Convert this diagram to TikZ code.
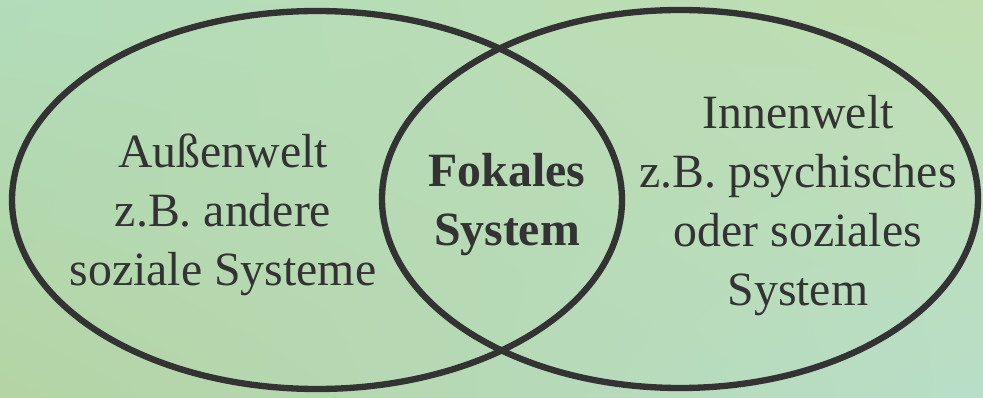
\documentclass[tikz,border=0pt]{standalone}
\usepackage{fontspec}
\setmainfont{Liberation Serif}
\usepackage{tikz}
\usetikzlibrary{shadings}

\definecolor{inkgray}{RGB}{51,51,51}
\definecolor{bgtl}{RGB}{178,220,186}
\definecolor{bgtr}{RGB}{192,222,176}
\definecolor{bgbl}{RGB}{180,212,164}
\definecolor{bgbr}{RGB}{184,222,200}

\tikzset{
  world/.style={draw=inkgray, line width=3.6pt},
  worldtext/.style={align=center, text=inkgray, font=\fontsize{27.2}{33.6}\selectfont}
}

\begin{document}
\begin{tikzpicture}[x=0.02cm, y=-0.02cm]
    % Background
    \shade[upper left=bgtl, upper right=bgtr, lower left=bgbl, lower right=bgbr]
        (0,0) rectangle (983,398);
    \useasboundingbox (0,0) rectangle (983,398);

    % Two worlds
    \draw[world] (317,200) ellipse [x radius=305, y radius=189];
    \draw[world] (680,199) ellipse [x radius=298, y radius=189];

    % Labels
    \node[worldtext] (outer) at (223,215) {Außenwelt\\z.B. andere\\soziale Systeme};
    \node[worldtext, font=\fontsize{27.2}{33.6}\selectfont\bfseries] (focal) at (507,205) {Fokales\\System};
    \node[worldtext] (inner) at (798,206) {Innenwelt\\z.B. psychisches\\oder soziales\\System};

\end{tikzpicture}
\end{document}
